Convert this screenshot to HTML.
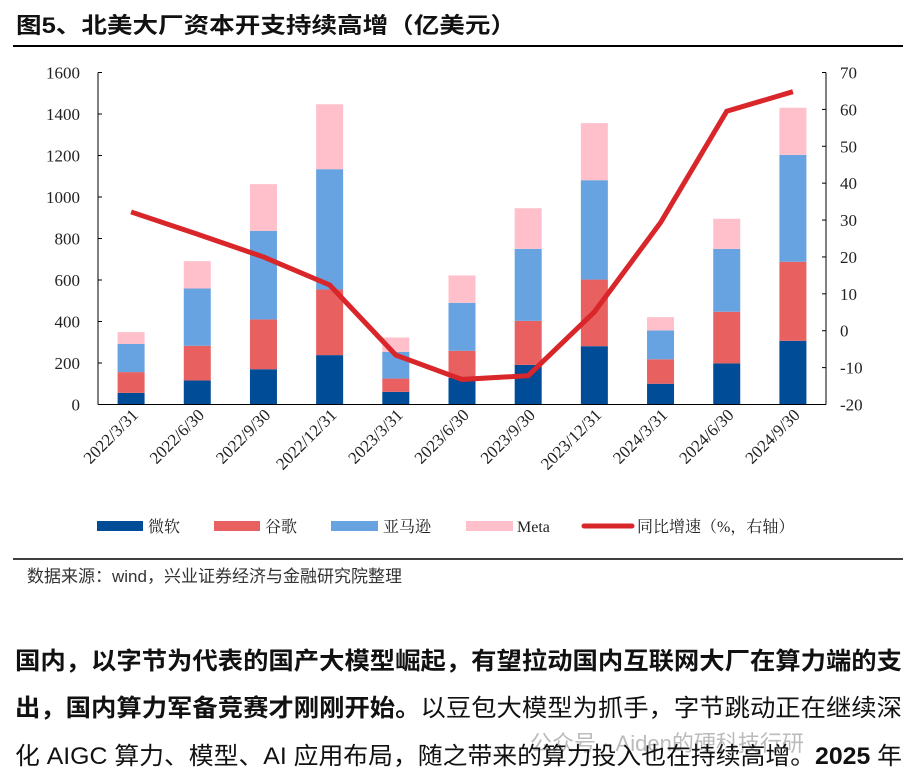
<!DOCTYPE html>
<html><head><meta charset="utf-8"><style>
html,body{margin:0;padding:0;background:#fff;}
svg{display:block;}
.serif{font-family:"Liberation Serif","Noto Serif CJK SC",serif;}
.sans{font-family:"Liberation Sans","Noto Sans CJK SC",sans-serif;}
</style></head><body>
<svg id="root" width="909" height="778" viewBox="0 0 909 778" xmlns="http://www.w3.org/2000/svg">
<text class="sans" x="16" y="33" font-size="22" font-weight="bold" fill="#111" textLength="500" lengthAdjust="spacingAndGlyphs">图5、北美大厂资本开支持续高增（亿美元）</text>
<line x1="13" y1="46" x2="903" y2="46" stroke="#000" stroke-width="2"/>
<g id="plot"></g>
<g id="legend">
<rect x="97" y="521" width="46" height="10" fill="#004C97"/>
<text class="serif" x="148" y="532" font-size="16" fill="#222">微软</text>
<rect x="214" y="521" width="46" height="10" fill="#E96060"/>
<text class="serif" x="265" y="532" font-size="16" fill="#222">谷歌</text>
<rect x="331" y="521" width="47" height="10" fill="#66A3E0"/>
<text class="serif" x="383" y="532" font-size="16" fill="#222">亚马逊</text>
<rect x="466" y="521" width="47" height="10" fill="#FFC0CB"/>
<text class="serif" x="517" y="532" font-size="16" fill="#222">Meta</text>
<line x1="584" y1="526" x2="632" y2="526" stroke="#D9262A" stroke-width="5" stroke-linecap="round"/>
<text class="serif" x="637" y="532" font-size="16" fill="#222">同比增速（%，右轴）</text>
</g>
<line x1="13" y1="559" x2="903" y2="559" stroke="#000" stroke-width="1.5"/>
<text class="sans" x="27" y="582" font-size="17" fill="#333">数据来源：wind，兴业证券经济与金融研究院整理</text>
<text class="sans" x="15" y="669" font-size="24" font-weight="bold" fill="#111" textLength="887" lengthAdjust="spacingAndGlyphs">国内，以字节为代表的国产大模型崛起，有望拉动国内互联网大厂在算力端的支</text>
<text class="sans" x="15" y="716" font-size="24" fill="#111" textLength="887" lengthAdjust="spacingAndGlyphs"><tspan font-weight="bold">出，国内算力军备竞赛才刚刚开始。</tspan>以豆包大模型为抓手，字节跳动正在继续深</text>
<text class="sans" x="530" y="751" font-size="22" fill="#bbb">公众号 · Aiden的硬科技行研</text>
<text class="sans" x="15" y="764" font-size="24" fill="#111" textLength="887" lengthAdjust="spacingAndGlyphs">化 AIGC 算力、模型、AI 应用布局，随之带来的算力投入也在持续高增。<tspan font-weight="bold">2025</tspan> 年</text>
</svg>
<script>
const categories=["2022/3/31","2022/6/30","2022/9/30","2022/12/31","2023/3/31","2023/6/30","2023/9/30","2023/12/31","2024/3/31","2024/6/30","2024/9/30"];
const microsoft=[56,116,170,238,61,129,191,281,100,198,307];
const google=[100,167,240,316,64,130,212,321,118,249,381];
const amazon=[136,276,427,580,129,231,347,479,139,303,515];
const meta=[57,132,225,313,69,132,196,275,64,145,227];
const yoy=[32.2,26.2,20.0,12.4,-6.6,-13.2,-12.2,5.1,29.3,59.5,64.8];
const leftTicks=[0,200,400,600,800,1000,1200,1400,1600];
const rightTicks=[-20,-10,0,10,20,30,40,50,60,70];

const NS="http://www.w3.org/2000/svg";
const g=document.getElementById('plot');
const X0=98,X1=826,Y0=404.5,Y1=72.5;
const band=(X1-X0)/categories.length;
const yL=v=>Y0-(v-0)/(1600-0)*(Y0-Y1);
const yR=v=>Y0-(v+20)/(90)*(Y0-Y1);
const xC=i=>X0+band*(i+0.5);
function mk(tag,attrs){const e=document.createElementNS(NS,tag);for(const k in attrs)e.setAttribute(k,attrs[k]);g.appendChild(e);return e;}

const series=[[microsoft,'#004C97','microsoft'],[google,'#E96060','google'],[amazon,'#66A3E0','amazon'],[meta,'#FFC0CB','meta']];
const bw=27;
categories.forEach((c,i)=>{
  let base=0;
  series.forEach(([arr,col,nm])=>{
    const top=base+arr[i];
    const r=mk('rect',{x:xC(i)-bw/2,y:yL(top),width:bw,height:yL(base)-yL(top),fill:col});
    
    
    base=top;
  });
});
let a=mk('line',{x1:X0,y1:Y1,x2:X0,y2:Y0,stroke:'#000','stroke-width':1});


a=mk('line',{x1:X1,y1:Y1,x2:X1,y2:Y0,stroke:'#000','stroke-width':1});


a=mk('line',{x1:X0,y1:Y0,x2:X1,y2:Y0,stroke:'#000','stroke-width':1});


leftTicks.forEach(v=>{
  mk('line',{x1:X0,y1:yL(v),x2:X0+4,y2:yL(v),stroke:'#000'});
  const t=mk('text',{x:X0-18,y:yL(v)+6,'text-anchor':'end','font-size':17,fill:'#222',class:'serif'});
  t.textContent=v;
  
  
});
rightTicks.forEach(v=>{
  mk('line',{x1:X1-4,y1:yR(v),x2:X1,y2:yR(v),stroke:'#000'});
  const t=mk('text',{x:X1+14,y:yR(v)+6,'text-anchor':'start','font-size':17,fill:'#222',class:'serif'});
  t.textContent=v;
  
  
});
categories.forEach((c,i)=>{
  const x=xC(i)+8,y=416;
  const t=mk('text',{x:x,y:y,'text-anchor':'end','font-size':17,fill:'#222',class:'serif',transform:`rotate(-45 ${x} ${y})`});
  t.textContent=c;
  
  
});
const pts=yoy.map((v,i)=>xC(i)+','+yR(v)).join(' ');
const pl=mk('polyline',{points:pts,fill:'none',stroke:'#D9262A','stroke-width':5,'stroke-linejoin':'miter'});


</script>
</body></html>
